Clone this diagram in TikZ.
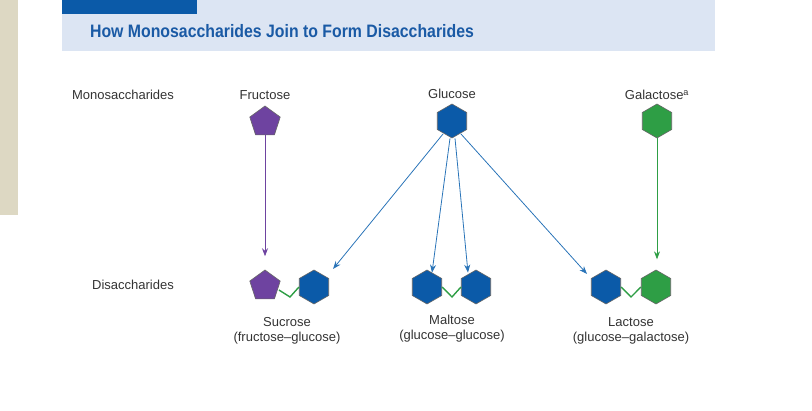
\documentclass[tikz,border=0pt]{standalone}
\usepackage{fontspec}
\setmainfont{Liberation Sans}
\usetikzlibrary{shapes.geometric,arrows.meta}
\definecolor{glublue}{HTML}{0B5AA8}
\definecolor{fruviolet}{HTML}{6E43A0}
\definecolor{galgreen}{HTML}{2E9E45}
\definecolor{arrblue}{HTML}{2A74B8}
\definecolor{bandblue}{HTML}{DCE5F3}
\definecolor{titleblue}{HTML}{1A5AA5}
\definecolor{beige}{HTML}{DDD8C3}
\tikzset{
  hexa/.style={regular polygon,regular polygon sides=6,shape border rotate=30,minimum size=34pt,inner sep=0pt,draw=black!60,line width=0.6pt},
  penta/.style={regular polygon,regular polygon sides=5,minimum size=32pt,inner sep=0pt,draw=black!60,line width=0.6pt},
  lbl/.style={font=\fontsize{13}{15}\selectfont,text=black!80},
  link/.style={galgreen,line width=1.4pt},
  feed/.style={-{Stealth[length=8pt,width=6pt]},line width=0.8pt}
}
\begin{document}
\begin{tikzpicture}[x=1pt,y=-1pt]
\useasboundingbox (0,0) rectangle (812,411);
% frame
\fill[beige] (0,0) rectangle (18,215);
\fill[bandblue] (62,0) rectangle (715,51);
\fill[glublue] (62,0) rectangle (197,14);
\node[anchor=west,font=\bfseries\fontsize{18}{20}\selectfont,text=titleblue,xscale=0.88] (title) at (87,31) {How Monosaccharides Join to Form Disaccharides};
% monosaccharides
\node[lbl] (mono) at (123,95) {Monosaccharides};
\node[lbl] (fruname) at (265,95) {Fructose};
\node[lbl] (gluname) at (452,94) {Glucose};
\node[lbl] (galname) at (657,95) {Galactose\textsuperscript{a}};
\node[penta,fill=fruviolet] (fru) at (265,122) {};
\node[hexa,fill=glublue] (glu) at (452,121) {};
\node[hexa,fill=galgreen] (gal) at (657,121) {};
% disaccharides
\node[lbl] (di) at (133,285) {Disaccharides};
\node[penta,fill=fruviolet] (sucA) at (265,286) {};
\node[hexa,fill=glublue] (sucB) at (314,287) {};
\node[hexa,fill=glublue] (malA) at (427,287) {};
\node[hexa,fill=glublue] (malB) at (476,287) {};
\node[hexa,fill=glublue] (lacA) at (606,287) {};
\node[hexa,fill=galgreen] (lacB) at (656,287) {};
\draw[link] (sucA.east) ++(0,4) -- (290,297) -- (sucB.west);
\draw[link] (malA.east) -- (452,297) -- (malB.west);
\draw[link] (lacA.east) -- (631,297) -- (lacB.west);
\node[lbl,align=center] (sucname) at (287,331) {Sucrose\\(fructose--glucose)};
\node[lbl,align=center] (malname) at (452,329) {Maltose\\(glucose--glucose)};
\node[lbl,align=center] (lacname) at (631,331) {Lactose\\(glucose--galactose)};
% connectors
\draw[feed,fruviolet] (fru.south) -- ++(0,121);
\draw[feed,galgreen] (gal.south) -- ++(0,121);
\draw[feed,arrblue] (glu.south west) ++(2,2) -- ([shift={(8,-7)}]sucB.north east);
\draw[feed,arrblue] ([xshift=-2]glu.south) -- ([xshift=5,yshift=-3]malA.north);
\draw[feed,arrblue] ([xshift=3]glu.south) -- ([xshift=-8,yshift=-3]malB.north);
\draw[feed,arrblue] (glu.south east) ++(-2,2) -- ([shift={(-8,-2)}]lacA.north west);
\end{tikzpicture}
\end{document}
